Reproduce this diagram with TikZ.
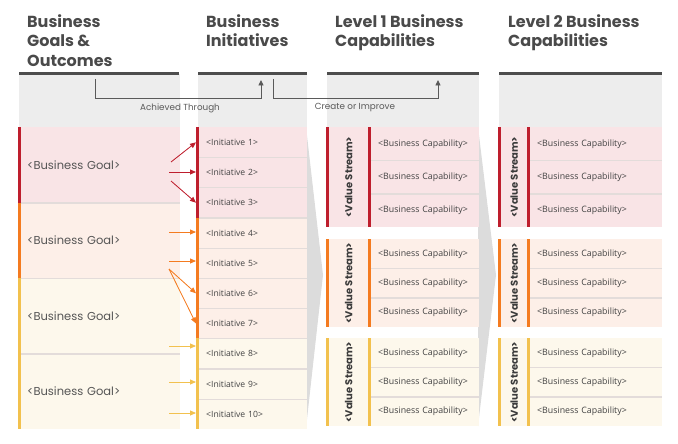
\documentclass[tikz,border=0pt]{standalone}
\usepackage{fontspec}
\setmainfont{Open Sans}
\newfontfamily\headfont{Poppins}
\newfontfamily\capfont{Open Sans}
\usetikzlibrary{arrows.meta,calc}
\definecolor{hdrtext}{HTML}{4A4A4A}
\definecolor{hdrbg}{HTML}{EDEDED}
\definecolor{hdrline}{HTML}{4D4D4D}
\definecolor{redbar}{HTML}{BE1E2D}
\definecolor{redfill}{HTML}{F9E4E6}
\definecolor{orgbar}{HTML}{F47B20}
\definecolor{orgfill}{HTML}{FDEFE8}
\definecolor{ylwbar}{HTML}{F2C14E}
\definecolor{ylwfill}{HTML}{FDF8EC}
\definecolor{sepgray}{HTML}{E3DCDA}
\definecolor{funnelgray}{HTML}{DCDCDC}
\definecolor{txt}{HTML}{424242}
\definecolor{conn}{HTML}{5A5A5A}
\begin{document}
\begin{tikzpicture}[x=1pt,y=-1pt,
  cell/.style={rectangle, inner ysep=0pt, anchor=north west, align=left},
  goal/.style={cell, minimum width=162pt, minimum height=75.5pt, inner xsep=9pt, text width=144pt,
    font=\headfont\fontsize{11.5}{13}\selectfont, text=txt!90},
  init/.style={cell, minimum width=111pt, minimum height=30.2pt, inner xsep=10pt, text width=91pt,
    font=\capfont\fontsize{8.6}{10}\selectfont, text=txt},
  capa/.style={cell, minimum width=111pt, inner xsep=10pt, text width=91pt,
    font=\capfont\fontsize{8.8}{10}\selectfont, text=txt},
  capb/.style={cell, minimum width=135pt, inner xsep=10pt, text width=115pt,
    font=\capfont\fontsize{8.8}{10}\selectfont, text=txt},
  vsbox/.style={rectangle, inner sep=0pt, anchor=north west},
  vstext/.style={rotate=90, inner sep=0pt, font=\headfont\bfseries\fontsize{10}{12}\selectfont, text=txt!90!black},
  head/.style={anchor=north west, inner sep=0pt, align=left, font=\headfont\bfseries\fontsize{16}{19.5}\selectfont, text=hdrtext},
  sepline/.style={draw=sepgray, line width=1.3pt},
  hdrln/.style={draw=hdrline, line width=3pt},
  connline/.style={draw=conn, line width=0.9pt, -{Triangle[length=5.5pt,width=5pt]}},
  conntext/.style={inner sep=0pt, font=\headfont\fontsize{8.8}{10}\selectfont, text=conn},
  garrow/.style={line width=0.8pt, -{Triangle[length=6pt,width=5pt]}},
]
\useasboundingbox (0,0) rectangle (678,444);
% header backgrounds
\fill[hdrbg] (19,74) rectangle (180,127);
\fill[hdrbg] (198,74) rectangle (307,127);
\fill[hdrbg] (327,74) rectangle (479,127);
\fill[hdrbg] (499,74) rectangle (662,127);
% funnels
\fill[funnelgray] (306,127) -- (323,275) -- (306,428) -- cycle;
\fill[funnelgray] (478,127) -- (496,275) -- (478,426) -- cycle;
% header lines
\draw[hdrln] (19,74) -- (179,74);
\draw[hdrln] (198,74) -- (307,74);
\draw[hdrln] (327,74) -- (479,74);
\draw[hdrln] (499,74) -- (662,74);
% headers
\node[head] (h1) at (27,14) {Business\\Goals \&\\Outcomes};
\node[head] (h2) at (206,14) {Business\\Initiatives};
\node[head] (h3) at (335,14) {Level 1 Business\\Capabilities};
\node[head] (h4) at (508,14) {Level 2 Business\\Capabilities};
% top connectors
\coordinate (a1) at (95,79);
\coordinate (a2) at (261,80);
\coordinate (b1) at (273,79);
\coordinate (b2) at (438,80);
\draw[connline] (a1) -- ++(0,19) -| (a2);
\draw[connline] (b1) -- ++(0,19) -| (b2);
\node[conntext] (t1) at (180,108) {Achieved Through};
\node[conntext] (t2) at (355,108) {Create or Improve};
% goals
\node[goal, fill=redfill] (g1) at (18,127) {<Business Goal>};
\node[goal, fill=orgfill] (g2) at (18,202.5) {<Business Goal>};
\node[goal, fill=ylwfill] (g3) at (18,278) {<Business Goal>};
\node[goal, fill=ylwfill] (g4) at (18,353.5) {<Business Goal>};
\foreach \k in {1,2,3} \draw[sepline] (g\k.south west) -- (g\k.south east);
\fill[redbar] (g1.north west) rectangle ($(g1.south west)+(3,0)$);
\fill[orgbar] (g2.north west) rectangle ($(g2.south west)+(3,0)$);
\fill[ylwbar] (g3.north west) rectangle ($(g4.south west)+(3,0)$);
% initiatives
\foreach \k/\f in {1/redfill,2/redfill,3/redfill,4/orgfill,5/orgfill,6/orgfill,7/orgfill,8/ylwfill,9/ylwfill,10/ylwfill}
  \node[init, fill=\f] (i\k) at (196,{127+30.2*(\k-1)}) {<Initiative \k>};
\foreach \k in {1,...,9} \draw[sepline] (i\k.south west) -- (i\k.south east);
\fill[redbar] (i1.north west) rectangle ($(i3.south west)+(3,0)$);
\fill[orgbar] (i4.north west) rectangle ($(i7.south west)+(3,0)$);
\fill[ylwbar] (i8.north west) rectangle ($(i10.south west)+(3,0)$);
% goal -> initiative arrows
\coordinate (s1) at (171,162);
\coordinate (s2) at (169,172);
\coordinate (s3) at (171,181);
\coordinate (s4) at (169,232);
\coordinate (s5) at (169,261);
\coordinate (s6) at (169,269);
\coordinate (s8) at (169,346);
\coordinate (s9) at (169,382);
\coordinate (s10) at (169,413);
\draw[garrow, draw=redbar, fill=redbar] (s1) -- (i1.west);
\draw[garrow, draw=redbar, fill=redbar] (s2) -- (s2 -| i2.west);
\draw[garrow, draw=redbar, fill=redbar] (s3) -- (i3.west);
\draw[garrow, draw=orgbar, fill=orgbar] (s4) -- (s4 -| i4.west);
\draw[garrow, draw=orgbar, fill=orgbar] (s5) -- (s5 -| i5.west);
\draw[garrow, draw=orgbar, fill=orgbar] (s6) -- (i6.west);
\draw[garrow, draw=orgbar, fill=orgbar] (s6) -- (i7.west);
\draw[garrow, draw=ylwbar, fill=ylwbar] (s8) -- (s8 -| i8.west);
\draw[garrow, draw=ylwbar, fill=ylwbar] (s9) -- (s9 -| i9.west);
\draw[garrow, draw=ylwbar, fill=ylwbar] (s10) -- (s10 -| i10.west);
% level 1 and level 2 capabilities
\foreach \g/\t/\h/\f/\b in {r/127/100/redfill/redbar, o/239/88/orgfill/orgbar, y/338/88/ylwfill/ylwbar} {
  \node[vsbox, minimum width=42pt, minimum height=\h pt, fill=\f] (va\g) at (326,\t) {};
  \node[vsbox, minimum width=29pt, minimum height=\h pt, fill=\f] (vb\g) at (498,\t) {};
  \foreach \j in {1,2,3} {
    \node[capa, minimum height=\h pt/3, fill=\f] (ca\g\j) at (368,{\t+\h/3*(\j-1)}) {<Business Capability>};
    \node[capb, minimum height=\h pt/3, fill=\f] (cb\g\j) at (527,{\t+\h/3*(\j-1)}) {<Business Capability>};
  }
  \foreach \j in {1,2} {
    \draw[sepline] (ca\g\j.south west) -- (ca\g\j.south east);
    \draw[sepline] (cb\g\j.south west) -- (cb\g\j.south east);
  }
  \fill[\b] (va\g.north west) rectangle ($(va\g.south west)+(3,0)$);
  \fill[\b] (ca\g1.north west) rectangle ($(ca\g3.south west)+(3,0)$);
  \fill[\b] (vb\g.north west) rectangle ($(vb\g.south west)+(3,0)$);
  \fill[\b] (cb\g1.north west) rectangle ($(cb\g3.south west)+(3,0)$);
  \node[vstext] (vta\g) at ($(va\g.center)+(1.5,0)$) {<Value Stream>};
  \node[vstext] (vtb\g) at ($(vb\g.center)+(1.5,0)$) {<Value Stream>};
}
\end{tikzpicture}
\end{document}
